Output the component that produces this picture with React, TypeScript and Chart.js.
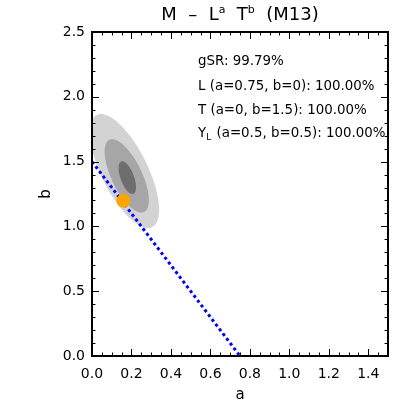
import React, { useEffect, useRef } from "react";
import { Chart, registerables } from "chart.js";

Chart.register(...registerables);

// ---- data ----
const xTicks = [0, 0.2, 0.4, 0.6, 0.8, 1.0, 1.2, 1.4];
const xMinorTicks = [0.05, 0.1, 0.15, 0.25, 0.3, 0.35, 0.45, 0.5, 0.55, 0.65, 0.7, 0.75, 0.85, 0.9, 0.95, 1.05, 1.1, 1.15, 1.25, 1.3, 1.35, 1.45];
const yTicks = [0, 0.5, 1.0, 1.5, 2.0, 2.5];
const yMinorTicks = [0.1, 0.2, 0.3, 0.4, 0.6, 0.7, 0.8, 0.9, 1.1, 1.2, 1.3, 1.4, 1.6, 1.7, 1.8, 1.9, 2.1, 2.2, 2.3, 2.4];

const relationA = [0, 0.75];
const relationB = [1.5, 0];

const bestA = [0.159];
const bestB = [1.198];

// confidence contours, outer to inner
const contourCenterA = [0.165, 0.176, 0.179];
const contourCenterB = [1.427, 1.390, 1.376];
const contourHalfA = [0.175, 0.112, 0.044];
const contourHalfB = [0.44, 0.283, 0.126];
const contourRho = [-0.68, -0.66, -0.58];
const contourColors = ["#d3d3d3", "#a6a6a6", "#6e6e6e"];

const annotationLines = [
  [{ t: "gSR: 99.79%" }],
  [{ t: "L (a=0.75, b=0): 100.00%" }],
  [{ t: "T (a=0, b=1.5): 100.00%" }],
  [{ t: "Y" }, { t: "L", sub: true }, { t: " (a=0.5, b=0.5): 100.00%" }],
];

const FONT = "'DejaVu Sans', sans-serif";

const framePlugin = {
  id: "framePlugin",
  beforeDatasetsDraw(chart: any) {
    const { ctx, chartArea } = chart;
    const xs = chart.scales.x;
    const ys = chart.scales.y;
    ctx.save();
    ctx.beginPath();
    ctx.rect(chartArea.left, chartArea.top, chartArea.right - chartArea.left, chartArea.bottom - chartArea.top);
    ctx.clip();
    for (let i = 0; i < contourCenterA.length; i++) {
      const ca = contourCenterA[i];
      const cb = contourCenterB[i];
      const ha = contourHalfA[i];
      const hb = contourHalfB[i];
      const r = contourRho[i];
      const s = Math.sqrt(1 - r * r);
      ctx.beginPath();
      const N = 180;
      for (let k = 0; k <= N; k++) {
        const t = (2 * Math.PI * k) / N;
        const a = ca + ha * Math.cos(t);
        const b = cb + hb * (r * Math.cos(t) + s * Math.sin(t));
        const px = xs.getPixelForValue(a);
        const py = ys.getPixelForValue(b);
        if (k === 0) ctx.moveTo(px, py);
        else ctx.lineTo(px, py);
      }
      ctx.closePath();
      ctx.fillStyle = contourColors[i];
      ctx.fill();
    }
    ctx.restore();
  },
  afterDraw(chart: any) {
    const { ctx, chartArea } = chart;
    const xs = chart.scales.x;
    const ys = chart.scales.y;
    const { left, right, top, bottom } = chartArea;
    ctx.save();
    ctx.strokeStyle = "#000";
    ctx.lineWidth = 2;
    ctx.strokeRect(left, top, right - left, bottom - top);
    ctx.lineWidth = 1;
    const major = 7;
    const minor = 3.5;
    ctx.beginPath();
    const vt = (v: number, len: number) => {
      const px = Math.round(xs.getPixelForValue(v)) + 0.5;
      ctx.moveTo(px, bottom);
      ctx.lineTo(px, bottom - len);
      ctx.moveTo(px, top);
      ctx.lineTo(px, top + len);
    };
    const ht = (v: number, len: number) => {
      const py = Math.round(ys.getPixelForValue(v)) + 0.5;
      ctx.moveTo(left, py);
      ctx.lineTo(left + len, py);
      ctx.moveTo(right, py);
      ctx.lineTo(right - len, py);
    };
    xTicks.forEach((v) => vt(v, major));
    xMinorTicks.forEach((v) => vt(v, minor));
    yTicks.forEach((v) => ht(v, major));
    yMinorTicks.forEach((v) => ht(v, minor));
    ctx.stroke();

    // title with superscripts
    const big = `18px ${FONT}`;
    const small = `11px ${FONT}`;
    const segs = [
      { t: "M  \u2013  L", f: big, dy: 0 },
      { t: "a", f: small, dy: -7 },
      { t: "  T", f: big, dy: 0 },
      { t: "b", f: small, dy: -7 },
      { t: "  (M13)", f: big, dy: 0 },
    ];
    let total = 0;
    segs.forEach((s) => {
      ctx.font = s.f;
      total += ctx.measureText(s.t).width;
    });
    const cx = (left + right) / 2;
    let x = cx - total / 2;
    ctx.fillStyle = "#000";
    ctx.textBaseline = "alphabetic";
    ctx.textAlign = "left";
    segs.forEach((s) => {
      ctx.font = s.f;
      ctx.fillText(s.t, x, 19.5 + s.dy);
      x += ctx.measureText(s.t).width;
    });

    // annotations
    const baseY = [65, 90, 114, 137];
    annotationLines.forEach((line, i) => {
      let ax = 198;
      line.forEach((seg: any) => {
        ctx.font = seg.sub ? `9px ${FONT}` : `13.4px ${FONT}`;
        ctx.fillText(seg.t, ax, baseY[i] + (seg.sub ? 3 : 0));
        ax += ctx.measureText(seg.t).width + (seg.sub ? 1 : 0);
      });
    });
    ctx.restore();
  },
};

export default function App() {
  const ref = useRef<HTMLCanvasElement | null>(null);
  useEffect(() => {
    if (!ref.current) return;
    const chart = new Chart(ref.current, {
      type: "scatter",
      data: {
        datasets: [
          {
            label: "best fit",
            data: bestA.map((a, i) => ({ x: a, y: bestB[i] })),
            backgroundColor: "#ffa500",
            borderWidth: 0,
            pointRadius: 7,
            pointHoverRadius: 7,
          },
          {
            label: "relation",
            data: relationA.map((a, i) => ({ x: a, y: relationB[i] })),
            showLine: true,
            borderColor: "#0000ff",
            borderWidth: 3,
            borderDash: [3, 3],
            pointRadius: 0,
            fill: false,
          } as any,
        ],
      },
      options: {
        animation: false,
        responsive: false,
        devicePixelRatio: 1,
        layout: { padding: { left: 0, right: 27, top: 32, bottom: 0 } },
        plugins: {
          legend: { display: false },
          tooltip: { enabled: false },
          title: { display: false },
        },
        scales: {
          x: {
            type: "linear",
            min: 0,
            max: 1.5,
            grid: { display: false, drawTicks: false },
            border: { display: false },
            afterBuildTicks: (s: any) => {
              s.ticks = xTicks.map((v) => ({ value: v }));
            },
            afterFit: (s: any) => {
              s.height = 59;
            },
            ticks: {
              autoSkip: false,
              maxRotation: 0,
              padding: 10,
              color: "#000",
              font: { family: FONT, size: 14 },
              callback: (v: any) => Number(v).toFixed(1),
            },
            title: {
              display: true,
              text: "a",
              color: "#000",
              font: { family: FONT, size: 15 },
              padding: { top: 0, bottom: 11 },
            },
          },
          y: {
            type: "linear",
            min: 0,
            max: 2.5,
            grid: { display: false, drawTicks: false },
            border: { display: false },
            afterBuildTicks: (s: any) => {
              s.ticks = yTicks.map((v) => ({ value: v }));
            },
            afterFit: (s: any) => {
              s.width = 92;
            },
            ticks: {
              autoSkip: false,
              padding: 7,
              color: "#000",
              font: { family: FONT, size: 14 },
              callback: (v: any) => Number(v).toFixed(1),
            },
            title: {
              display: true,
              text: "b",
              color: "#000",
              font: { family: FONT, size: 15 },
              padding: { top: 37, bottom: 0 },
            },
          },
        },
      },
      plugins: [framePlugin],
    } as any);
    return () => chart.destroy();
  }, []);
  return (
    <div style={{ position: "fixed", left: 0, top: 0, width: 415, height: 415, background: "#fff" }}>
      <canvas ref={ref} width={415} height={415} style={{ width: 415, height: 415 }} />
    </div>
  );
}
